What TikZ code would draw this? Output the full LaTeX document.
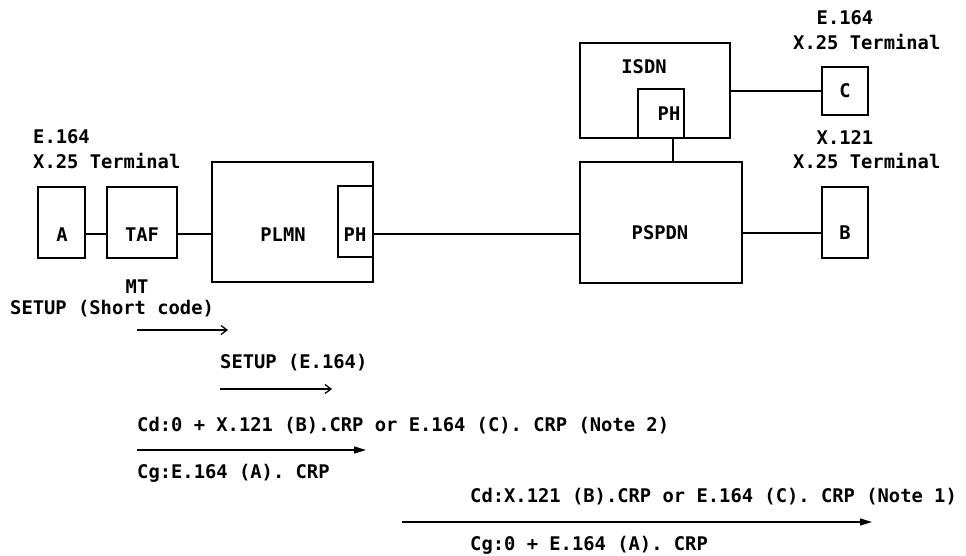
\documentclass[tikz,border=0pt]{standalone}
\usepackage{fontspec}
\newfontfamily\dmono{DejaVu Sans Mono}
\usetikzlibrary{arrows.meta}
\begin{document}
\begin{tikzpicture}[x=1pt,y=-1pt,
  box/.style={draw, line width=1.4pt, inner sep=0pt},
  txt/.style={inner sep=0pt, text height=13.7pt, text depth=0pt, font=\dmono\bfseries\fontsize{18.8}{25}\selectfont},
  btxt/.style={inner sep=0pt, text height=13.7pt, text depth=0pt, font=\dmono\bfseries\fontsize{18.8}{25}\selectfont},
  wire/.style={line width=1.4pt},
  msgopen/.style={line width=1.3pt, -{Straight Barb[length=6pt,width=9pt,line width=1.3pt]}},
  msgfill/.style={line width=1.3pt, -{Triangle[length=12pt,width=7pt]}}]
\useasboundingbox (0,0) rectangle (966,556);

% boxes
\node[box, minimum width=47pt, minimum height=71pt] (A) at (61.5,222.5) {};
\node[box, minimum width=70pt, minimum height=71pt] (TAF) at (142,222.5) {};
\node[box, minimum width=161pt, minimum height=120pt] (PLMN) at (292.5,222) {};
\node[box, minimum width=35pt, minimum height=71pt] (PHL) at (355.5,221.5) {};
\node[box, minimum width=150pt, minimum height=95pt] (ISDN) at (655,90.5) {};
\node[box, minimum width=46pt, minimum height=49pt] (PHI) at (661,113.5) {};
\node[box, minimum width=46pt, minimum height=48pt] (C) at (845,91) {};
\node[box, minimum width=162pt, minimum height=121pt] (PSPDN) at (661,222.5) {};
\node[box, minimum width=46pt, minimum height=71pt] (B) at (845,222.5) {};

% box labels
\node[btxt] (tA) at (62,235) {A};
\node[btxt] (tTAF) at (142,235) {TAF};
\node[btxt] (tPLMN) at (283,235) {PLMN};
\node[btxt] (tPHL) at (355,235) {PH};
\node[btxt] (tISDN) at (644,67) {ISDN};
\node[btxt] (tPHI) at (669,114) {PH};
\node[btxt] (tC) at (845,91) {C};
\node[btxt] (tPSPDN) at (660,233) {PSPDN};
\node[btxt] (tB) at (845,233) {B};

% connectors
\coordinate (lnA) at (0,234);
\coordinate (lnB) at (0,233);
\coordinate (vx) at (673,0);
\draw[wire] (A.east |- lnA) -- (TAF.west |- lnA);
\draw[wire] (TAF.east |- lnA) -- (PLMN.west |- lnA);
\draw[wire] (PHL.east |- lnA) -- (PSPDN.west |- lnA);
\draw[wire] (PSPDN.east |- lnB) -- (B.west |- lnB);
\draw[wire] (ISDN.east |- C.west) -- (C.west);
\draw[wire] (PHI.south -| vx) -- (PSPDN.north -| vx);

% terminal labels
\node[txt, anchor=west] (lE) at (33,137) {E.164};
\node[txt, anchor=west] (lX) at (33,162) {X.25 Terminal};
\node[txt] (rE) at (845,18) {E.164};
\node[txt, anchor=west] (rX) at (793,43) {X.25 Terminal};
\node[txt] (rE2) at (845,138) {X.121};
\node[txt, anchor=west] (rX2) at (793,162) {X.25 Terminal};

% message flow
\node[btxt] (mt) at (137,287) {MT};
\node[txt, anchor=west] (s1) at (10,308) {SETUP (Short code)};
\coordinate (a1s) at (137,330);
\coordinate (a1e) at (228,330);
\draw[msgopen] (a1s) -- (a1e);
\node[txt, anchor=west] (s2) at (220,362) {SETUP (E.164)};
\coordinate (a2s) at (220,389);
\coordinate (a2e) at (332,389);
\draw[msgopen] (a2s) -- (a2e);
\node[txt, anchor=west] (cd2) at (137,425) {Cd:0 + X.121 (B).CRP or E.164 (C). CRP (Note 2)};
\coordinate (a3s) at (137,450);
\coordinate (a3e) at (366,450);
\draw[msgfill] (a3s) -- (a3e);
\node[txt, anchor=west] (cg2) at (137,472) {Cg:E.164 (A). CRP};
\node[txt, anchor=west] (cd1) at (470,496) {Cd:X.121 (B).CRP or E.164 (C). CRP (Note 1)};
\coordinate (a4s) at (402,522);
\coordinate (a4e) at (872,522);
\draw[msgfill] (a4s) -- (a4e);
\node[txt, anchor=west] (cg1) at (470,544) {Cg:0 + E.164 (A). CRP};
\end{tikzpicture}
\end{document}
